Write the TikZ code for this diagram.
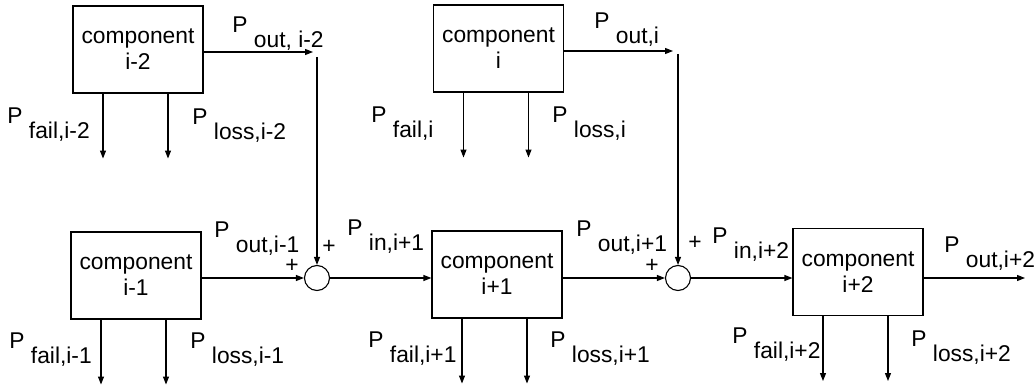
\documentclass[tikz,border=0pt]{standalone}
\usepackage{fontspec}
\setmainfont{Liberation Sans}
\usetikzlibrary{positioning, arrows.meta}
\newcommand{\pl}[1]{P \raisebox{-7.5pt}{#1}}

\begin{document}
\begin{tikzpicture}[x=0.5pt, y=-0.5pt,
  every node/.style={font=\fontsize{11.4}{13}\selectfont},
  comp/.style={rectangle, draw, line width=0.55pt, minimum width=65pt,
               minimum height=43.5pt, align=center, inner sep=0pt},
  sumnode/.style={circle, draw, line width=0.55pt, minimum size=12.5pt, inner sep=0pt},
  sign/.style={inner sep=0pt},
  lbl/.style={anchor=base west, inner sep=0pt},
  arr/.style={-{Triangle[length=4pt, width=3pt]}, line width=0.55pt}
]
\useasboundingbox (0,0) rectangle (1034,390);

% components
\node[comp] (cim2) at (138,49.5)  {component\\i-2};
\node[comp] (ci)   at (498.5,48.5) {component\\i\hspace{10pt}};
\node[comp] (cim1) at (136,275.5) {component\\i-1};
\node[comp] (cip1) at (497,274.5) {component\\i+1};
\node[comp] (cip2) at (858,272)   {component\\i+2};

% summing points
\node[sumnode] (s1) at (317,278) {};
\node[sumnode] (s2) at (678,278) {};

% free ends
\coordinate (oim2) at (313,52);
\coordinate (vim2) at (317,57);
\coordinate (oi)   at (673,51);
\coordinate (vi)   at (678,54);
\coordinate (oip2) at (1025,278);

% fail / loss outputs
\foreach \c in {cim2,ci,cim1,cip1,cip2} {
  \coordinate (\c-f) at ([xshift=-17.5pt, yshift=-32.5pt]\c.south);
  \coordinate (\c-l) at ([xshift=15pt, yshift=-32.5pt]\c.south);
  \draw[arr] (\c.south -| \c-f) -- (\c-f);
  \draw[arr] (\c.south -| \c-l) -- (\c-l);
}

% power flow
\draw[arr] (cim2.east |- oim2) -- (oim2);
\draw[arr] (vim2) -- (s1.north);
\draw[arr] (ci.east |- oi) -- (oi);
\draw[arr] (vi) -- (s2.north);
\draw[arr] (cim1.east |- s1) -- (s1.west);
\draw[arr] (s1.east) -- (s1 -| cip1.west);
\draw[arr] (cip1.east |- s2) -- (s2.west);
\draw[arr] (s2.east) -- (s2 -| cip2.west);
\draw[arr] (cip2.east |- oip2) -- (oip2);

% signs
\node[sign] (pl1a) at (292,266) {+};
\node[sign] (pl1b) at (329,247) {+};
\node[sign] (pl2a) at (652,266) {+};
\node[sign] (pl2b) at (695,243) {+};

% labels
\node[lbl] (lfim2) at (7,124)   {\pl{fail,i-2}};
\node[lbl] (llim2) at (192,125) {\pl{loss,i-2}};
\node[lbl] (loim2) at (232,33)  {\pl{out, i-2}};
\node[lbl] (lfi)   at (371,123) {\pl{fail,i}};
\node[lbl] (lli)   at (552,123) {\pl{loss,i}};
\node[lbl] (loi)   at (594,29)  {\pl{out,i}};
\node[lbl] (lfim1) at (9,348)   {\pl{fail,i-1}};
\node[lbl] (llim1) at (190,348) {\pl{loss,i-1}};
\node[lbl] (loim1) at (214,237) {\pl{out,i-1}};
\node[lbl] (linp1) at (347,235) {\pl{in,i+1}};
\node[lbl] (lfip1) at (368,347) {\pl{fail,i+1}};
\node[lbl] (llip1) at (550,347) {\pl{loss,i+1}};
\node[lbl] (loip1) at (576,236) {\pl{out,i+1}};
\node[lbl] (linp2) at (712,243) {\pl{in,i+2}};
\node[lbl] (lfip2) at (732,343) {\pl{fail,i+2}};
\node[lbl] (llip2) at (911,346) {\pl{loss,i+2}};
\node[lbl] (loip2) at (944,252) {\pl{out,i+2}};
\end{tikzpicture}
\end{document}
